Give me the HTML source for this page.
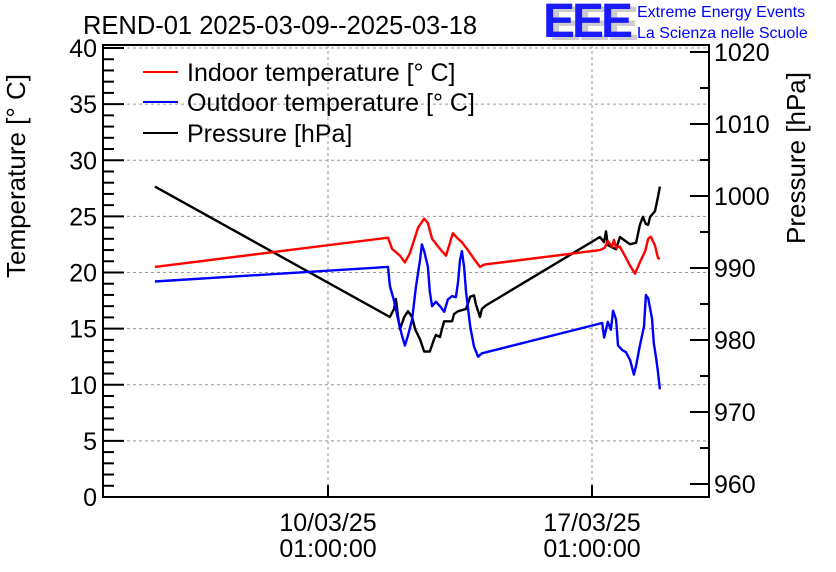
<!DOCTYPE html>
<html><head><meta charset="utf-8"><style>
body{margin:0;background:#fff;}
svg{display:block;font-family:"Liberation Sans",sans-serif;}
</style></head><body>
<svg id="chart" width="836" height="572" viewBox="0 0 836 572">
<rect width="836" height="572" fill="#fff"/>
<text x="83" y="34" font-size="25.5">REND-01 2025-03-09--2025-03-18</text>
<g>
<text x="549" y="40" font-size="48" font-weight="bold" fill="#ccc" letter-spacing="-3">EEE</text>
<text x="543" y="37" font-size="48" font-weight="bold" fill="#1a1aff" letter-spacing="-3">EEE</text>
<text x="637" y="17" font-size="16" fill="#0000ff">Extreme Energy Events</text>
<text x="637" y="38" font-size="16" fill="#0000ff">La Scienza nelle Scuole</text>
</g>
<g id="grid"></g>
<g id="marks"></g>
<g id="axes"></g>
<text transform="translate(25,176) rotate(-90)" text-anchor="middle" font-size="26">Temperature [° C]</text>
<text transform="translate(805,158) rotate(-90)" text-anchor="middle" font-size="26">Pressure [hPa]</text>
<g>
<line x1="143" y1="72" x2="178" y2="72" stroke="#f00" stroke-width="2"/>
<text x="187" y="81" font-size="25">Indoor temperature [° C]</text>
<line x1="143" y1="102" x2="178" y2="102" stroke="#00f" stroke-width="2"/>
<text x="187" y="111" font-size="25">Outdoor temperature [° C]</text>
<line x1="143" y1="133" x2="178" y2="133" stroke="#000" stroke-width="2"/>
<text x="187" y="142" font-size="25">Pressure [hPa]</text>
</g>
</svg>
<script>
// time in days relative to 10/03/25 01:00:00
const xTickDays=[0,7];
const xTickLabels1=["10/03/25","17/03/25"];
const xTickLabels2=["01:00:00","01:00:00"];
const tempTicks=[0,5,10,15,20,25,30,35,40];
const presTicks=[960,970,980,990,1000,1010,1020];
const inDays=[-4.59,1.59,1.70,1.91,2.04,2.17,2.39,2.55,2.65,2.76,2.97,3.13,3.23,3.31,3.45,3.55,3.71,3.87,4.03,4.14,7.21,7.34,7.42,7.53,7.58,7.64,7.74,7.87,8.01,8.14,8.28,8.41,8.49,8.56,8.67,8.75,8.80];
const inTemp=[20.5,23.1,22.1,21.5,20.9,21.7,24.0,24.8,24.4,23.0,22.1,21.5,22.6,23.5,23.0,22.7,22.0,21.2,20.5,20.7,22.0,22.2,22.8,22.3,22.9,22.2,22.3,21.5,20.6,19.9,21.0,21.9,23.0,23.2,22.4,21.3,21.2];
const outDays=[-4.59,1.59,1.64,1.75,1.86,1.96,2.04,2.12,2.23,2.33,2.44,2.49,2.55,2.65,2.70,2.76,2.86,2.97,3.08,3.18,3.29,3.39,3.45,3.50,3.55,3.61,3.66,3.77,3.87,3.98,4.08,7.27,7.32,7.42,7.50,7.56,7.64,7.69,7.80,7.90,8.01,8.11,8.17,8.27,8.38,8.43,8.49,8.59,8.64,8.70,8.75,8.80];
const outTemp=[19.2,20.5,18.8,17.5,15.8,14.4,13.5,14.4,15.8,18.7,21.1,22.5,21.9,20.5,18.3,17.0,17.4,17.0,16.5,17.6,17.9,17.8,19.2,21.1,21.9,20.5,18.3,15.2,13.4,12.5,12.8,15.5,14.2,15.6,14.9,16.6,15.8,13.5,13.1,12.9,12.2,10.9,11.7,13.5,15.2,18.0,17.7,15.9,13.7,12.4,11.1,9.6];
const presDays=[-4.59,1.64,1.75,1.80,1.86,1.91,2.02,2.12,2.23,2.31,2.44,2.55,2.70,2.76,2.81,2.86,2.97,3.02,3.08,3.29,3.34,3.45,3.66,3.77,3.87,3.92,4.03,4.08,4.19,7.21,7.32,7.37,7.42,7.64,7.74,7.90,8.01,8.17,8.27,8.35,8.43,8.49,8.54,8.67,8.75,8.80];
const presVal=[1001.3,983.2,984.3,985.7,983.2,981.5,983.2,984.0,983.2,981.5,980.1,978.4,978.4,979.3,980.1,980.7,980.4,981.5,982.6,982.6,983.6,984.0,984.3,986.0,986.2,985.0,983.2,984.3,984.8,994.3,993.6,995.1,993.2,992.6,994.3,993.7,993.3,993.5,996.0,997.1,996.1,996.0,997.1,997.9,999.9,1001.3];

const L=103,R=709,T=45,B=497;
function xS(d){return 328+d*37.714;}
function yT(v){return B-v*11.225;}
function yP(p){return 52+(1020-p)*7.2;}
const NS="http://www.w3.org/2000/svg";
function mk(tag,attrs,parent){const e=document.createElementNS(NS,tag);for(const k in attrs)e.setAttribute(k,attrs[k]);parent.appendChild(e);return e;}
const grid=document.getElementById('grid'),marks=document.getElementById('marks'),axes=document.getElementById('axes');
tempTicks.forEach(v=>{const g=mk('line',{x1:L,x2:R,y1:yT(v),y2:yT(v),stroke:'#999','stroke-dasharray':'3,3','stroke-width':1},grid);

});
xTickDays.forEach(d=>{const g=mk('line',{x1:xS(d),x2:xS(d),y1:T,y2:B,stroke:'#999','stroke-dasharray':'3,3','stroke-width':1},grid);

});
function series(xs,ys,yf,color,name){const pts=xs.map((d,i)=>xS(d).toFixed(1)+','+yf(ys[i]).toFixed(1)).join(' ');
const p=mk('polyline',{points:pts,fill:'none',stroke:color,'stroke-width':2.4,'stroke-linejoin':'round'},marks);

}
series(presDays,presVal,yP,'#000','pressure-line');
series(inDays,inTemp,yT,'#f00','indoor-temperature-line');
series(outDays,outTemp,yT,'#00f','outdoor-temperature-line');
const fr=mk('rect',{x:L,y:T,width:R-L,height:B-T,fill:'none',stroke:'#000','stroke-width':2},axes);


for(let v=0;v<=40;v++){const maj=v%5===0;mk('line',{x1:L,x2:L+(maj?21:11),y1:yT(v),y2:yT(v),stroke:'#000','stroke-width':2},axes);}
tempTicks.forEach(v=>{const t=mk('text',{x:L-6,y:yT(v)+9,'text-anchor':'end','font-size':25},axes);t.textContent=v;

});
for(let p=960;p<=1020;p+=5){const maj=p%10===0;mk('line',{x1:R-(maj?19:9),x2:R,y1:yP(p),y2:yP(p),stroke:'#000','stroke-width':2},axes);}
presTicks.forEach(p=>{const t=mk('text',{x:R+5,y:yP(p)+9,'font-size':25},axes);t.textContent=p;

});
xTickDays.forEach((d,i)=>{mk('line',{x1:xS(d),x2:xS(d),y1:B-12,y2:B,stroke:'#000','stroke-width':2},axes);
const t1=mk('text',{x:xS(d),y:531,'text-anchor':'middle','font-size':25},axes);t1.textContent=xTickLabels1[i];


const t2=mk('text',{x:xS(d),y:557,'text-anchor':'middle','font-size':25},axes);t2.textContent=xTickLabels2[i];

});
</script>
</body></html>
